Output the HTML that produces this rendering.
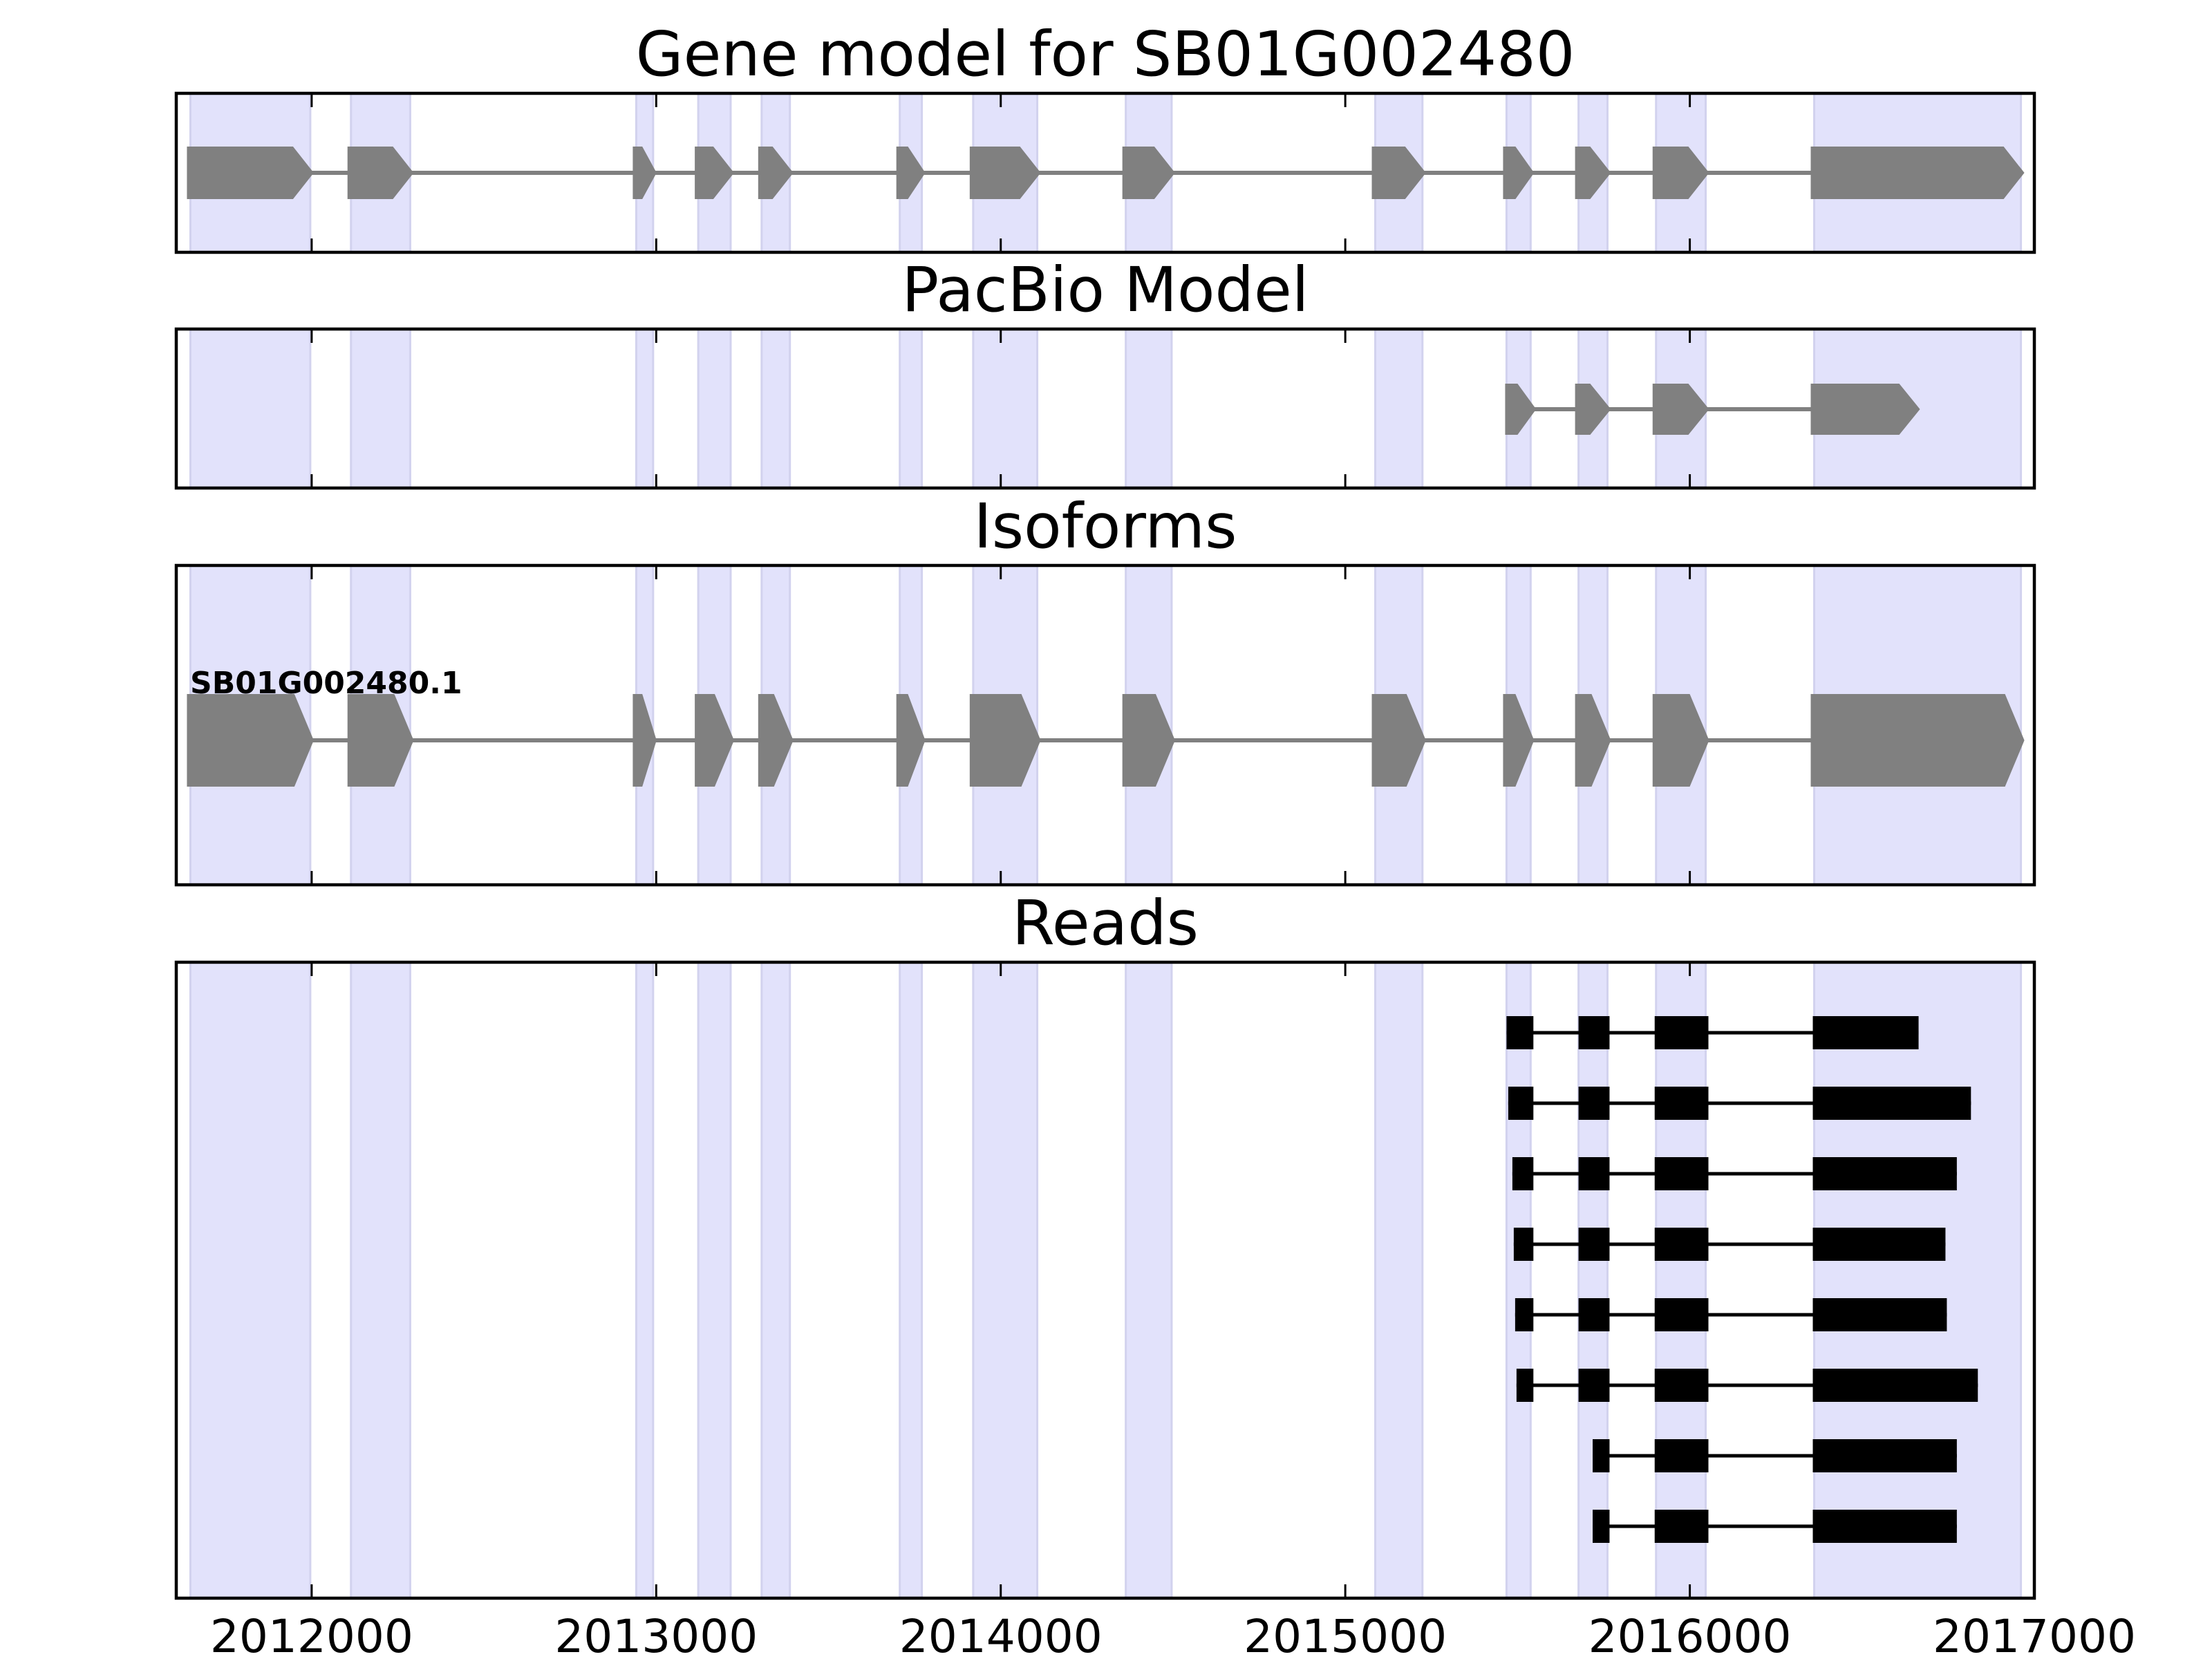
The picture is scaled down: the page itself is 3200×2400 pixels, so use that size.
<!DOCTYPE html>
<html><head><meta charset="utf-8"><style>
html,body{margin:0;padding:0;background:#fff;}
svg{display:block;}
text{font-family:"DejaVu Sans","Liberation Sans",sans-serif;}
</style></head><body>
<svg id="chart" width="3200" height="2400" viewBox="0 0 3200 2400" xmlns="http://www.w3.org/2000/svg"></svg>
<script>
// ---- data ----
const xTicks = [2012000, 2013000, 2014000, 2015000, 2016000, 2017000];
const tickLabels = ["2012000", "2013000", "2014000", "2015000", "2016000", "2017000"];
const panelTitles = ["Gene model for SB01G002480", "PacBio Model", "Isoforms", "Reads"];
const exonStarts = [2011648, 2012114, 2012942, 2013122, 2013306, 2013707, 2013920, 2014363, 2015087, 2015468, 2015677, 2015902, 2016361];
const exonEnds   = [2011996, 2012286, 2012991, 2013216, 2013388, 2013771, 2014106, 2014496, 2015224, 2015538, 2015761, 2016046, 2016961];
const pacbioStarts = [2015474, 2015677, 2015902, 2016361];
const pacbioEnds   = [2015544, 2015761, 2016046, 2016658];
const isoformName = "SB01G002480.1";
const readStarts = [
  [2015468, 2015677, 2015898, 2016357],
  [2015473, 2015677, 2015898, 2016357],
  [2015485, 2015677, 2015898, 2016357],
  [2015489, 2015677, 2015898, 2016357],
  [2015493, 2015677, 2015898, 2016357],
  [2015497, 2015677, 2015898, 2016357],
  [2015718, 2015898, 2016357],
  [2015718, 2015898, 2016357]
];
const readEnds = [
  [2015546, 2015767, 2016054, 2016664],
  [2015546, 2015767, 2016054, 2016816],
  [2015546, 2015767, 2016054, 2016775],
  [2015546, 2015767, 2016054, 2016742],
  [2015546, 2015767, 2016054, 2016746],
  [2015546, 2015767, 2016054, 2016836],
  [2015767, 2016054, 2016775],
  [2015767, 2016054, 2016775]
];
const xMin = 2011607, xMax = 2017000;

// ---- layout ----
const L = 255, R = 2943;
const panels = [
  {top:135, bottom:365, name:'gene-model-panel'},
  {top:476, bottom:706, name:'pacbio-panel'},
  {top:818, bottom:1280, name:'isoforms-panel'},
  {top:1392, bottom:2312, name:'reads-panel'}
];
const NS = 'http://www.w3.org/2000/svg';
const svg = document.getElementById('chart');
function x(v){ return L + (v - xMin) / (xMax - xMin) * (R - L); }
function mk(tag, attrs, parent){
  const e = document.createElementNS(NS, tag);
  for (const k in attrs) e.setAttribute(k, attrs[k]);
  (parent || svg).appendChild(e);
  return e;
}
function arrow(g, s, e, cy, h, tip){
  const x0 = x(s) - 5, x1 = x(e) + 5;
  const t = Math.min(tip, (x1 - x0) * 0.6);
  const pts = [[x0, cy - h/2], [x1 - t, cy - h/2], [x1, cy], [x1 - t, cy + h/2], [x0, cy + h/2]];
  const p = mk('polygon', {points: pts.map(q => q.join(',')).join(' '), fill:'#808080'}, g);
  
  
}
function intronLine(g, s, e, cy, color, w){
  const l = mk('line', {x1:x(s), x2:x(e), y1:cy, y2:cy, stroke:color, 'stroke-width':w}, g);
  
  
}

panels.forEach((p, pi) => {
  const g = mk('g', {});
  
  
  for (let i = 0; i < exonStarts.length; i++){
    const r = mk('rect', {x:x(exonStarts[i]), y:p.top, width:x(exonEnds[i]) - x(exonStarts[i]), height:p.bottom - p.top, fill:'#e2e2fb', stroke:'#d2d2ee', 'stroke-width':3}, g);
    
    
  }
  const cy = (p.top + p.bottom) / 2;
  if (pi === 0){
    intronLine(g, exonStarts[0], exonEnds[exonEnds.length-1], cy, '#808080', 6);
    for (let i = 0; i < exonStarts.length; i++) arrow(g, exonStarts[i], exonEnds[i], cy, 76, 30);
  } else if (pi === 1){
    intronLine(g, pacbioStarts[0], pacbioEnds[pacbioEnds.length-1], cy + 1, '#808080', 6);
    for (let i = 0; i < pacbioStarts.length; i++) arrow(g, pacbioStarts[i], pacbioEnds[i], cy + 1, 74, 30);
  } else if (pi === 2){
    const icy = 1071;
    intronLine(g, exonStarts[0], exonEnds[exonEnds.length-1], icy, '#808080', 6);
    for (let i = 0; i < exonStarts.length; i++) arrow(g, exonStarts[i], exonEnds[i], icy, 134, 28);
    const t = mk('text', {x:275, y:1003, 'font-size':44, 'font-weight':'bold', fill:'#000'}, g);
    t.textContent = isoformName;
    
    
  } else {
    for (let r = 0; r < readStarts.length; r++){
      const ry = 1494 + r * 102;
      const rs = readStarts[r], re = readEnds[r];
      intronLine(g, rs[0], re[re.length-1], ry, '#000', 5);
      for (let k = 0; k < rs.length; k++){
        const b = mk('rect', {x:x(rs[k]), y:ry - 24, width:x(re[k]) - x(rs[k]), height:48, fill:'#000'}, g);
        
        
      }
    }
  }
  xTicks.forEach((tv, ti) => {
    const tx = x(tv);
    const a = mk('line', {x1:tx, x2:tx, y1:p.top, y2:p.top + 20, stroke:'#000', 'stroke-width':3}, g);
    
    
    const b = mk('line', {x1:tx, x2:tx, y1:p.bottom, y2:p.bottom - 20, stroke:'#000', 'stroke-width':3}, g);
    
    
    if (pi === 3){
      const t = mk('text', {x:tx, y:2390, 'font-size':66, 'text-anchor':'middle', fill:'#000'}, g);
      t.textContent = tickLabels[ti];
      
      
    }
  });
  const f = mk('rect', {x:L, y:p.top, width:R - L, height:p.bottom - p.top, fill:'none', stroke:'#000', 'stroke-width':4.5}, g);
  
  
  const tt = mk('text', {x:(L + R) / 2, y:p.top - 26, 'font-size':89, 'text-anchor':'middle', fill:'#000'}, g);
  tt.textContent = panelTitles[pi];
  
  
});
</script>
</body></html>
